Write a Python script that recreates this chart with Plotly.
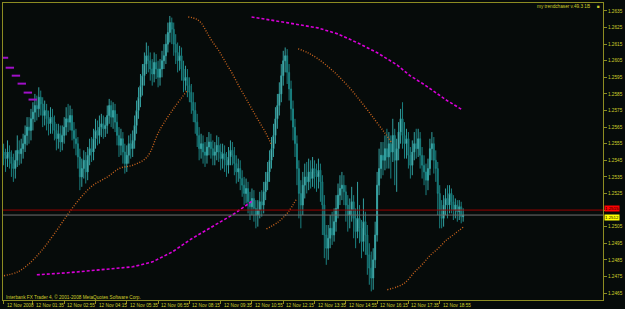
import plotly.graph_objects as go

# ---------------- data (prices in pips above 1.2400) ----------------
BASE = 1.2400
PIP = 0.0001

first_open = 150
closes = [
    148, 146, 150, 147, 143, 140, 145, 151, 149, 152,
    155, 160, 165, 163, 170, 174, 178, 176, 183, 179,
    172, 175, 170, 167, 171, 168, 163, 158, 161, 156,
    160, 165, 170, 168, 172, 163, 158, 155, 147, 135,
    140, 145, 138, 148, 152, 150, 158, 163, 160, 165,
    167, 164, 166, 172, 178, 171, 175, 168, 160, 154,
    158, 150, 143, 148, 155, 152, 157, 166, 175, 183,
    190, 196, 203, 208, 205, 200, 197, 204, 200, 195,
    200, 205, 208, 215, 222, 228, 224, 215, 210, 205,
    208, 200, 193, 195, 190, 186, 180, 175, 168, 160,
    152, 155, 150, 148, 153, 156, 152, 148, 150, 154,
    150, 146, 149, 145, 142, 147, 151, 148, 143, 138,
    140, 134, 130, 125, 128, 120, 117, 122, 116, 112,
    115, 120, 118, 126, 132, 138, 145, 152, 160, 170,
    178, 185, 196, 205, 208, 198, 188, 176, 165, 155,
    140, 125, 118, 130, 135, 132, 138, 134, 140, 137,
    135, 139, 132, 118, 100, 92, 98, 104, 100, 108,
    116, 124, 128, 130, 126, 118, 112, 115, 120, 110,
    102, 110, 104, 96, 108, 100, 88, 80, 74, 85,
    100, 130, 140, 148, 145, 152, 147, 155, 150, 160,
    145, 152, 162, 170, 160, 155, 158, 148, 142, 150,
    155, 152, 158, 148, 142, 138, 133, 140, 152, 155,
    145, 140, 125, 115, 110, 118, 122, 118, 125, 120,
    115, 118, 114, 117, 111, 112,
]
highs = [
    155, 152, 157, 154, 151, 149, 151, 160, 157, 158,
    161, 166, 171, 171, 176, 180, 185, 184, 189, 187,
    183, 181, 179, 175, 177, 176, 172, 167, 167, 166,
    166, 171, 177, 179, 178, 176, 168, 164, 159, 152,
    146, 151, 150, 153, 158, 159, 164, 170, 169, 172,
    173, 172, 171, 178, 182, 181, 180, 179, 173, 165,
    164, 162, 155, 154, 160, 161, 163, 172, 181, 189,
    197, 203, 210, 216, 214, 210, 206, 210, 209, 205,
    206, 211, 215, 221, 228, 232, 231, 228, 221, 216,
    214, 213, 205, 202, 200, 195, 191, 186, 180, 173,
    165, 161, 160, 156, 159, 162, 161, 157, 156, 160,
    159, 155, 155, 154, 150, 153, 157, 156, 153, 148,
    146, 145, 139, 135, 134, 132, 126, 128, 127, 121,
    121, 126, 127, 132, 138, 144, 151, 159, 167, 177,
    185, 192, 203, 211, 213, 212, 203, 193, 181, 170,
    160, 145, 133, 138, 143, 144, 146, 145, 147, 145,
    143, 146, 143, 136, 124, 106, 106, 112, 114, 116,
    124, 131, 136, 138, 136, 130, 124, 122, 129, 124,
    116, 132, 118, 109, 122, 114, 106, 95, 90, 92,
    108, 138, 152, 156, 156, 160, 164, 162, 160, 170,
    164, 158, 168, 176, 180, 168, 164, 162, 153, 157,
    162, 164, 164, 162, 153, 148, 143, 146, 158, 162,
    159, 151, 144, 130, 121, 124, 128, 130, 130, 128,
    124, 122, 121, 121, 120, 116,
]
lows = [
    142, 138, 141, 140, 135, 132, 134, 141, 142, 143,
    146, 150, 154, 155, 157, 163, 168, 169, 171, 172,
    165, 166, 163, 160, 161, 161, 157, 151, 152, 150,
    151, 155, 160, 162, 163, 157, 152, 148, 140, 127,
    129, 134, 131, 133, 142, 144, 145, 152, 154, 155,
    159, 158, 159, 161, 167, 165, 164, 162, 154, 147,
    148, 143, 137, 138, 143, 146, 147, 152, 161, 170,
    177, 184, 190, 197, 198, 193, 190, 192, 194, 189,
    190, 195, 200, 203, 210, 216, 215, 208, 203, 198,
    199, 193, 186, 187, 183, 180, 173, 168, 161, 153,
    145, 146, 143, 141, 143, 148, 146, 142, 142, 145,
    144, 139, 140, 138, 135, 137, 142, 142, 136, 131,
    132, 127, 123, 118, 119, 113, 109, 112, 108, 104,
    105, 110, 111, 113, 121, 127, 132, 140, 147, 155,
    164, 172, 180, 190, 198, 191, 181, 169, 157, 147,
    130, 110, 104, 112, 122, 125, 127, 128, 129, 128,
    126, 128, 120, 100, 86, 82, 85, 92, 94, 96,
    102, 110, 118, 121, 118, 108, 102, 104, 108, 98,
    92, 98, 95, 86, 90, 88, 76, 70, 66, 67,
    80, 96, 124, 134, 136, 139, 140, 140, 134, 144,
    130, 126, 145, 155, 152, 146, 146, 140, 134, 136,
    145, 146, 147, 140, 134, 130, 124, 127, 136, 145,
    137, 132, 112, 104, 104, 105, 112, 110, 113, 113,
    109, 110, 108, 109, 107, 108,
]

# indicator knots: (bar index, pips)
orange_1_x = [0.2, 7.3, 12.4, 18.9, 25.5, 32.6, 39.2, 45.8, 52.9, 59.4, 66, 73.2, 79.7, 87.3, 93.9]
orange_1_y = [75.4, 77.8, 82, 89.8, 100, 112, 122.2, 130, 134.8, 140.2, 142, 146.8, 163, 176.8, 187]
orange_2_x = [94.4, 98.4, 101, 103.5, 106.5, 110.1, 113.6, 116.7, 120.2, 123.7, 126.8, 130.3, 133.9, 136.9]
orange_2_y = [231.4, 230.2, 227.8, 223, 217, 211, 203.8, 197.8, 190, 182.8, 176.2, 169, 161.8, 154.6]
orange_3_x = [134.4, 140.4, 145.5, 150]
orange_3_y = [103.6, 107.8, 113.8, 122.2]
orange_4_x = [150.6, 155.6, 160.7, 168.3, 175.9, 183.5, 190.1, 195.1, 198.7]
orange_4_y = [212.2, 209.8, 206.2, 199, 190, 179.2, 169, 161.2, 155.2]
orange_5_x = [196.2, 201.3, 205.3, 209.8, 213.9, 217.9, 222.5, 226.5, 230.6, 235.1]
orange_5_y = [67, 68.8, 71.2, 77.2, 82, 87.4, 92.2, 97, 100.6, 104.8]

magenta_1_x = [0.2, 3.2, 6.3, 9.3, 12.4, 14.9]
magenta_1_y = [206.8, 200.8, 196, 191.2, 185.8, 181.6]
magenta_2_x = [17, 32.6, 49.3, 66, 76.2, 86.3, 96, 107.5, 117.7, 127.8]
magenta_2_y = [76, 77.2, 79, 80.8, 83.8, 89.8, 97.6, 105.4, 112.6, 121]
magenta_3_x = [126.8, 135.4, 145.5, 160.7, 170.8, 181, 191.1, 201.3, 207.8, 214.9, 220.5, 226.5, 234.6]
magenta_3_y = [231.4, 229.6, 227.8, 224.8, 221.2, 215.8, 209.8, 202.4, 196, 190.8, 186, 181.2, 175.4]

x_tick_bars = [0, 15, 31, 47, 63, 79, 95, 111, 127, 143, 159, 175, 191, 207, 223]
x_tick_labels = ["12 Nov 2008", "12 Nov 01:35", "12 Nov 02:55", "12 Nov 04:15", "12 Nov 05:35",
                 "12 Nov 06:55", "12 Nov 08:15", "12 Nov 09:35", "12 Nov 10:55", "12 Nov 12:15",
                 "12 Nov 13:35", "12 Nov 14:55", "12 Nov 16:15", "12 Nov 17:35", "12 Nov 18:55"]
y_tick_vals = [1.2465, 1.2475, 1.2485, 1.2495, 1.2505, 1.2515, 1.2525, 1.2535, 1.2545,
               1.2555, 1.2565, 1.2575, 1.2585, 1.2595, 1.2605, 1.2615, 1.2625, 1.2635]
ask_level = 1.2515
bid_level = 1.2512

# ---------------- figure ----------------
def px(v):
    return [BASE + a * PIP for a in v]

opens = [first_open] + closes[:-1]
bars = list(range(len(closes)))

BG = "#060b0a"
FRAME = "#8c8c22"
TXT = "#cfcf2a"
FONT = "Liberation Sans"
FS = 4.7

fig = go.Figure()
fig.add_trace(go.Candlestick(
    x=bars, open=px(opens), high=px(highs), low=px(lows), close=px(closes),
    increasing=dict(line=dict(color="#33a0a0", width=1), fillcolor="#aef2f2"),
    decreasing=dict(line=dict(color="#1a8080", width=1), fillcolor="#0f6262"),
    whiskerwidth=0, hoverinfo="skip"))

orange = "#c8641e"
for xs, ys in [(orange_1_x, orange_1_y), (orange_2_x, orange_2_y), (orange_3_x, orange_3_y),
               (orange_4_x, orange_4_y), (orange_5_x, orange_5_y)]:
    fig.add_trace(go.Scatter(x=xs, y=px(ys), mode="lines",
                             line=dict(color=orange, width=1.4, dash="1px,1.6px", shape="spline"),
                             hoverinfo="skip"))

fig.add_trace(go.Scatter(x=magenta_1_x, y=px(magenta_1_y), mode="markers",
                         marker=dict(symbol="line-ew", size=6, line=dict(color="#a010c8", width=2)),
                         hoverinfo="skip"))
for xs, ys in [(magenta_2_x, magenta_2_y), (magenta_3_x, magenta_3_y)]:
    fig.add_trace(go.Scatter(x=xs, y=px(ys), mode="lines",
                             line=dict(color="#d800d8", width=1.6, dash="3px,2px", shape="linear"),
                             hoverinfo="skip"))

fig.add_hline(y=ask_level, line=dict(color="#9a0000", width=1))
fig.add_hline(y=bid_level, line=dict(color="#707070", width=1))

annotations = []
for b, t in zip(x_tick_bars, x_tick_labels):
    annotations.append(dict(x=b, y=0, xref="x", yref="paper", text=t, showarrow=False,
                            xanchor="left", yanchor="top", yshift=-1, xshift=1,
                            font=dict(family=FONT, size=FS, color=TXT)))
annotations.append(dict(x=0.002, y=0.01, xref="paper", yref="paper", showarrow=False,
                        text="Interbank FX Trader 4, © 2001-2008 MetaQuotes Software Corp.",
                        xanchor="left", yanchor="middle",
                        font=dict(family=FONT, size=FS, color=TXT)))
annotations.append(dict(x=0.982, y=0.987, xref="paper", yref="paper", showarrow=False,
                        text="my trendchaser v.49.3 1B", xanchor="right", yanchor="middle",
                        font=dict(family=FONT, size=FS, color=TXT)))
annotations.append(dict(x=0.992, y=0.987, xref="paper", yref="paper", showarrow=False,
                        text="■", xanchor="center", yanchor="middle",
                        font=dict(family=FONT, size=FS, color=TXT)))
annotations.append(dict(x=1, y=ask_level, xref="paper", yref="y", showarrow=False,
                        text=f"{ask_level:.4f}", xanchor="left", yanchor="bottom", xshift=1, yshift=-1.5,
                        bgcolor="#ff0000", borderpad=0,
                        font=dict(family=FONT, size=4.4, color="#000000")))
annotations.append(dict(x=1, y=bid_level, xref="paper", yref="y", showarrow=False,
                        text=f"{bid_level:.4f}", xanchor="left", yanchor="top", xshift=1, yshift=1.5,
                        bgcolor="#ffff00", borderpad=0,
                        font=dict(family=FONT, size=4.4, color="#000000")))

# the 1.2515 axis label is covered by the red price box in the reference
y_tick_text = ["" if abs(v - ask_level) < 1e-9 else f"{v:.4f}" for v in y_tick_vals]

fig.update_layout(
    width=625, height=309,
    margin=dict(l=2, r=17, t=2, b=9),
    paper_bgcolor=BG, plot_bgcolor=BG,
    showlegend=False, hovermode=False,
    annotations=annotations,
    xaxis=dict(range=[-0.3, 306.5], rangeslider=dict(visible=False),
               showgrid=False, zeroline=False,
               showline=True, linecolor=FRAME, linewidth=1, mirror=True,
               tickvals=x_tick_bars, ticks="outside", ticklen=3, tickcolor=FRAME,
               showticklabels=False),
    yaxis=dict(range=[1.24608, 1.26398], side="right",
               showgrid=False, zeroline=False,
               showline=True, linecolor=FRAME, linewidth=1, mirror=True,
               tickvals=y_tick_vals, ticktext=y_tick_text,
               ticks="outside", ticklen=3, tickcolor=FRAME,
               tickfont=dict(family=FONT, size=FS, color=TXT)),
)

fig.write_html("out.html")
